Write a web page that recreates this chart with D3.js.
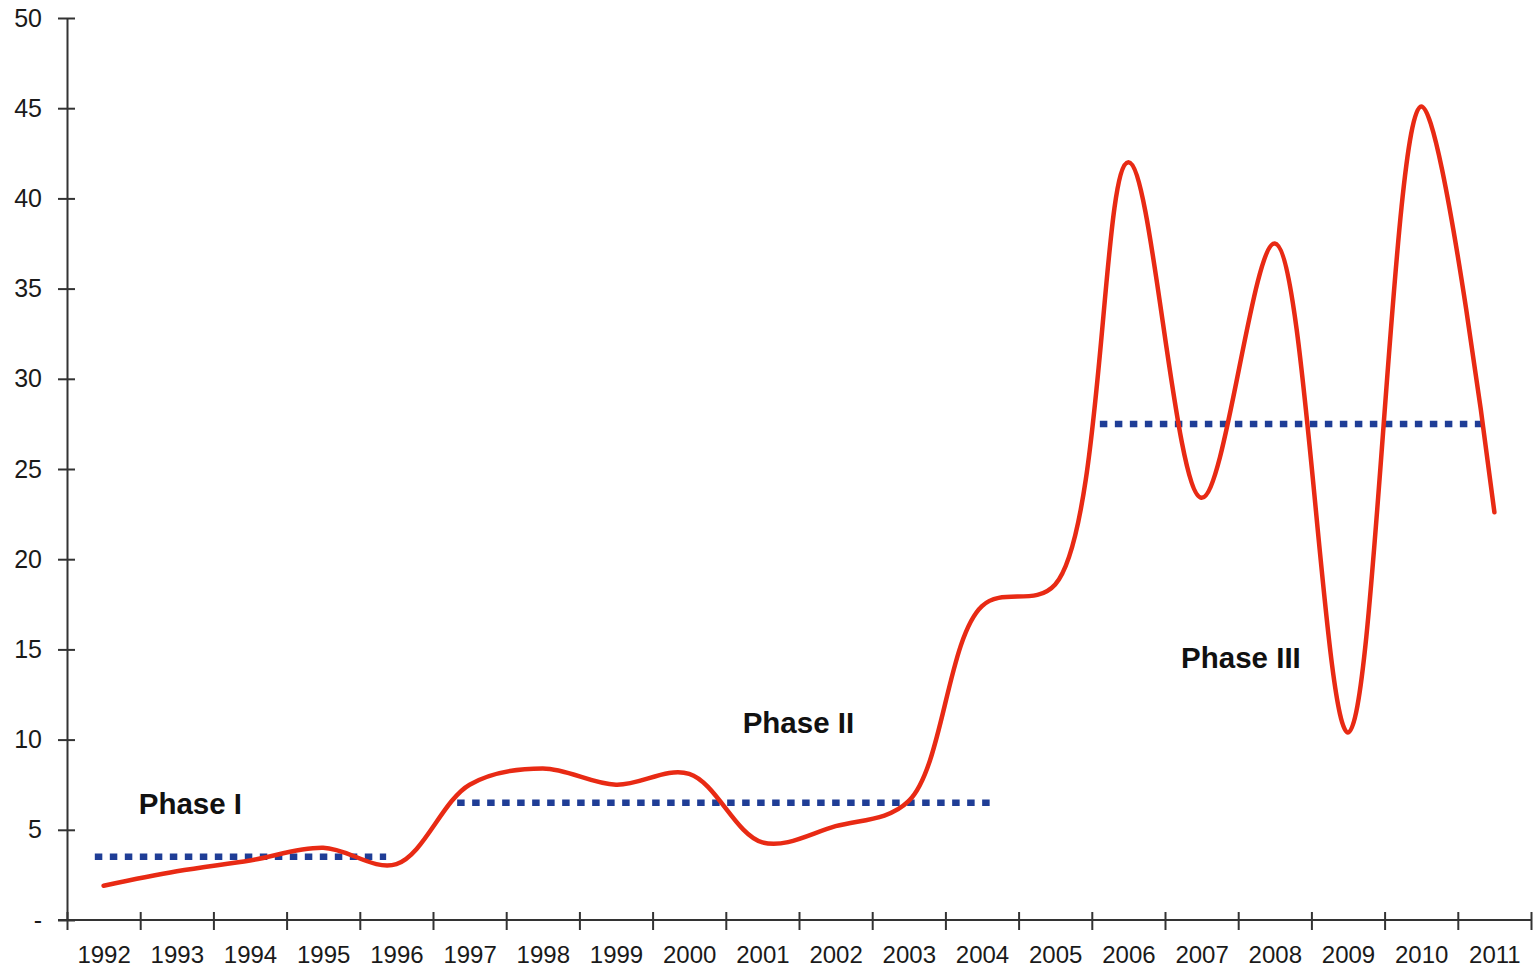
<!DOCTYPE html>
<html><head><meta charset="utf-8">
<script src="https://cdn.jsdelivr.net/npm/d3@7"></script>
<style>
html,body{margin:0;padding:0;background:#fff;}
svg{display:block;font-family:"Liberation Sans",Arial,sans-serif;}
</style></head>
<body>
<svg id="chart" width="1540" height="967"></svg>
<script>
const years = [1992,1993,1994,1995,1996,1997,1998,1999,2000,2001,2002,2003,2004,2005,2006,2007,2008,2009,2010,2011];
const values = [1.9,2.7,3.3,4.0,3.1,7.5,8.4,7.5,8.1,4.3,5.2,6.6,17.4,18.6,42.0,23.4,37.5,10.4,45.1,22.6];
const yTicks = [0,5,10,15,20,25,30,35,40,45,50];
const phaseNames = ["Phase I","Phase II","Phase III"];
const phaseLevels = [3.5,6.5,27.5];
const phaseStart = [1991.88,1996.83,2005.61];
const phaseEnd = [1995.86,2004.11,2010.84];
const phaseLabelX = [1992.48,2000.73,2006.72];
const phaseLabelY = [5.9,10.35,13.95];

(function(){
const svg = d3.select("#chart");
const mLeft = 67, mRight = 1531, mTop = 18, mBottom = 920;
const x = d3.scaleLinear().domain([years[0]-0.5, years[years.length-1]+0.5]).range([mLeft,mRight]);
const y = d3.scaleLinear().domain([0,50]).range([mBottom,mTop]);

// Y axis
const yAxis = svg.append("g").attr("transform",`translate(${mLeft},0)`)
  .call(d3.axisLeft(y).tickValues(yTicks).tickFormat(d => d===0 ? "-" : d).tickSize(9).tickSizeOuter(0).tickPadding(16));
yAxis.select(".domain").attr("stroke","#333").attr("stroke-width",2);
yAxis.selectAll(".tick line").attr("x1",8).attr("x2",-9).attr("stroke","#333").attr("stroke-width",2);
yAxis.selectAll(".tick text").attr("font-size",25).attr("fill","#1a1a1a").attr("font-family","Liberation Sans, Arial, sans-serif");

// X axis ticks at band boundaries
const bounds = years.map(d => d-0.5).concat([years[years.length-1]+0.5]);
const xAxis = svg.append("g").attr("transform",`translate(0,${mBottom})`)
  .call(d3.axisBottom(x).tickValues(bounds).tickFormat("").tickSize(10).tickSizeOuter(0));
xAxis.select(".domain").attr("stroke","#333").attr("stroke-width",2).attr("d",`M${mLeft-9},0H${mRight}`);
xAxis.selectAll(".tick line").attr("y1",-8).attr("y2",10).attr("stroke","#333").attr("stroke-width",2);

// X labels at band centers
const xLab = svg.append("g").attr("transform",`translate(0,${mBottom})`)
  .call(d3.axisBottom(x).tickValues(years).tickFormat(d3.format("d")).tickSize(0).tickPadding(26));
xLab.select(".domain").remove();
xLab.selectAll(".tick text").attr("font-size",24).attr("fill","#1a1a1a").attr("font-family","Liberation Sans, Arial, sans-serif");

// Phase average dotted lines
phaseNames.forEach((n,i) => {
  svg.append("line")
    .attr("x1",x(phaseStart[i])).attr("x2",x(phaseEnd[i]))
    .attr("y1",y(phaseLevels[i])).attr("y2",y(phaseLevels[i]))
    .attr("stroke","#1f3d96").attr("stroke-width",6.5).attr("stroke-dasharray","7.5,7.5");
});

// Smoothed red line
const line = d3.line().x((d,i)=>x(years[i])).y(d=>y(d)).curve(d3.curveCatmullRom.alpha(0.5));
svg.append("path").datum(values).attr("d",line)
  .attr("fill","none").attr("stroke","#e82a14").attr("stroke-width",4.5).attr("stroke-linecap","round");

// Phase labels
phaseNames.forEach((n,i) => {
  svg.append("text").attr("x",x(phaseLabelX[i])).attr("y",y(phaseLabelY[i]))
    .attr("font-size",29.5).attr("font-weight","bold").attr("fill","#111").text(n);
});
})();
</script>
</body></html>
